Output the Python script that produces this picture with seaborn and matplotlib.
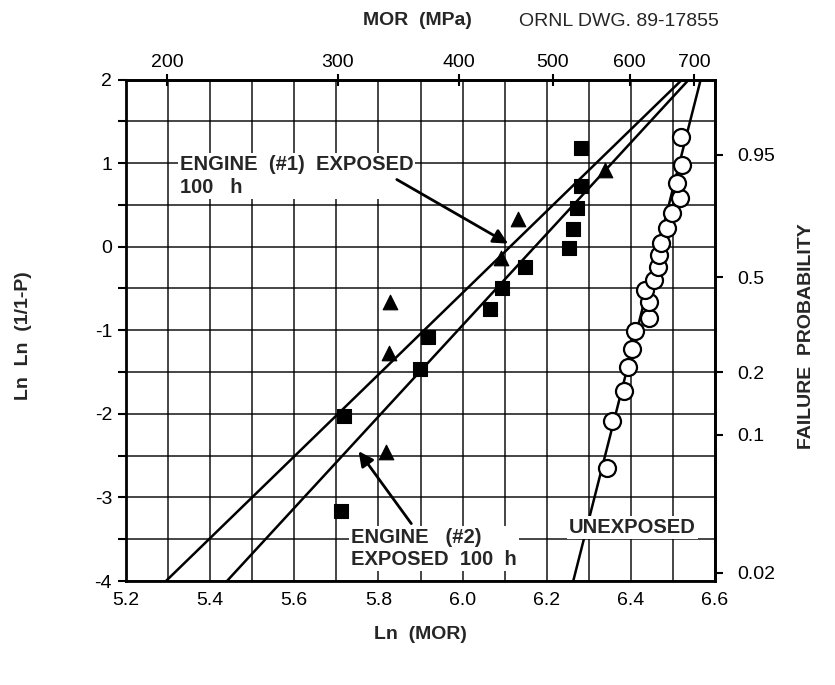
import numpy as np
import pandas as pd
import matplotlib
matplotlib.use("Agg")
import matplotlib.pyplot as plt
import seaborn as sns

# Engine (#1) exposed 100 h  -- filled triangles
eng1_lnmor = [5.818, 5.826, 5.828, 6.092, 6.131, 6.338]
eng1_lnln = [-2.46, -1.27, -0.66, -0.13, 0.33, 0.92]

# Engine (#2) exposed 100 h  -- filled squares
eng2_lnmor = [5.711, 5.718, 5.898, 5.918, 6.066, 6.094, 6.148, 6.252, 6.262, 6.272, 6.281, 6.281]
eng2_lnln = [-3.16, -2.02, -1.46, -1.08, -0.74, -0.49, -0.24, -0.02, 0.21, 0.46, 0.73, 1.18]

# unexposed -- open circles
unexp_lnmor = [6.344, 6.354, 6.384, 6.394, 6.402, 6.411, 6.442, 6.442, 6.434, 6.454,
               6.464, 6.466, 6.472, 6.486, 6.498, 6.516, 6.510, 6.522, 6.518]
unexp_lnln = [-2.65, -2.09, -1.73, -1.44, -1.22, -1.01, -0.85, -0.66, -0.52, -0.40,
              -0.24, -0.10, 0.04, 0.22, 0.40, 0.58, 0.76, 0.98, 1.31]

# fitted Weibull lines (end points)
fit1_x, fit1_y = [5.295, 6.522], [-4, 2]
fit2_x, fit2_y = [5.44, 6.538], [-4, 2]
fitu_x, fitu_y = [6.263, 6.566], [-4, 2]

# axis ticks
x_ticks = [5.2, 5.4, 5.6, 5.8, 6.0, 6.2, 6.4, 6.6]
y_ticks = [-4, -3, -2, -1, 0, 1, 2]
mor_ticks = [200, 300, 400, 500, 600, 700]
prob_ticks = [0.02, 0.1, 0.2, 0.5, 0.95]
prob_labels = ["0.02", "0.1", "0.2", "0.5", "0.95"]

sns.set_theme(style="white")
plt.rcParams["font.family"] = ["Liberation Sans", "DejaVu Sans"]
plt.rcParams["axes.unicode_minus"] = False

fig = plt.figure(figsize=(8.35, 6.85), dpi=100)
ax = fig.add_axes([0.1509, 0.1518, 0.8563 - 0.1509, 0.8839 - 0.1518])

# grid
ax.set_xlim(5.2, 6.6)
ax.set_ylim(-4, 2)
ax.set_xticks(x_ticks)
ax.set_xticks(np.arange(5.3, 6.6, 0.2), minor=True)
ax.set_yticks(y_ticks)
ax.set_yticks(np.arange(-3.5, 2, 1.0), minor=True)
ax.grid(True, which="both", color="black", lw=1.2, alpha=0.85)
ax.set_axisbelow(True)
for s in ax.spines.values():
    s.set_color("black")
    s.set_linewidth(2)
ax.set_xticklabels([f"{v:.1f}" for v in x_ticks])
ax.set_yticklabels([str(v) for v in y_ticks])
ax.tick_params(axis="y", which="both", left=True, direction="out", length=6, width=1.5,
               labelsize=14, colors="black", pad=4)
ax.tick_params(axis="x", which="both", bottom=True, direction="out", length=0,
               labelsize=14, colors="black", pad=8)

# fitted lines
line_df = pd.DataFrame({"x": fit1_x + fit2_x + fitu_x,
                        "y": fit1_y + fit2_y + fitu_y,
                        "set": ["e1"] * 2 + ["e2"] * 2 + ["u"] * 2})
sns.lineplot(data=line_df, x="x", y="y", units="set", estimator=None, color="black",
             lw=1.8, ax=ax, zorder=3, legend=False)

# data
sns.scatterplot(x=eng2_lnmor, y=eng2_lnln, marker="s", s=95, color="black",
                edgecolor="black", ax=ax, zorder=4)
sns.scatterplot(x=eng1_lnmor, y=eng1_lnln, marker="^", s=110, color="black",
                edgecolor="black", ax=ax, zorder=4)
sns.scatterplot(x=unexp_lnmor, y=unexp_lnln, marker="o", s=150, facecolor="white",
                edgecolor="black", linewidth=1.6, ax=ax, zorder=5)

# labels inside
box = dict(facecolor="white", edgecolor="none", pad=1.5)
ax.text(5.328, 0.85, "ENGINE  (#1)  EXPOSED\n100   h", ha="left", va="center",
        fontsize=14.5, fontweight="bold", linespacing=1.25, bbox=box, zorder=6)
ax.annotate("", xy=(6.114, 0.02), xytext=(5.838, 0.82), zorder=7,
            arrowprops=dict(arrowstyle="-|>", color="black", lw=2, mutation_scale=22))
ax.text(5.735, -3.61, "ENGINE   (#2)\nEXPOSED  100  h", ha="left", va="center",
        fontsize=14.5, fontweight="bold", linespacing=1.25, bbox=box, zorder=6)
ax.annotate("", xy=(5.749, -2.42), xytext=(5.882, -3.34), zorder=7,
            arrowprops=dict(arrowstyle="-|>", color="black", lw=2, mutation_scale=22))
ax.text(6.404, -3.36, "UNEXPOSED", ha="center", va="center", fontsize=14.5,
        fontweight="bold", bbox=box, zorder=6)

ax.set_xlabel("Ln  (MOR)", fontsize=14, fontweight="bold")
ax.xaxis.set_label_coords(0.5, -0.09)
ax.set_ylabel("Ln  Ln  (1/1-P)", fontsize=14, fontweight="bold")
ax.yaxis.set_label_coords(-0.16, 0.49)

# top MOR axis
top = ax.secondary_xaxis("top", functions=(np.exp, np.log))
top.set_xticks(mor_ticks)
top.set_xticklabels([str(v) for v in mor_ticks])
top.tick_params(direction="inout", length=8, width=1.5, labelsize=14, pad=2, colors="black")
top.spines["top"].set_linewidth(2)

# right failure probability axis
def to_prob(y):
    return 1 - np.exp(-np.exp(y))

def to_lnln(p):
    p = np.clip(p, 1e-9, 1 - 1e-9)
    return np.log(-np.log(1 - p))

right = ax.secondary_yaxis("right", functions=(to_prob, to_lnln))
right.set_yticks(prob_ticks)
right.set_yticklabels(prob_labels)
right.tick_params(direction="out", length=6, width=1.5, labelsize=14, pad=10, colors="black")
right.spines["right"].set_linewidth(2)

fig.text(0.966, 0.51, "FAILURE  PROBABILITY", rotation=90, ha="center", va="center",
         fontsize=14, fontweight="bold")
fig.text(0.50, 0.970, "MOR  (MPa)", ha="center", va="center", fontsize=14, fontweight="bold")
fig.text(0.741, 0.968, "ORNL DWG. 89-17855", ha="center", va="center", fontsize=14)

fig.savefig("out.png", dpi=100)
